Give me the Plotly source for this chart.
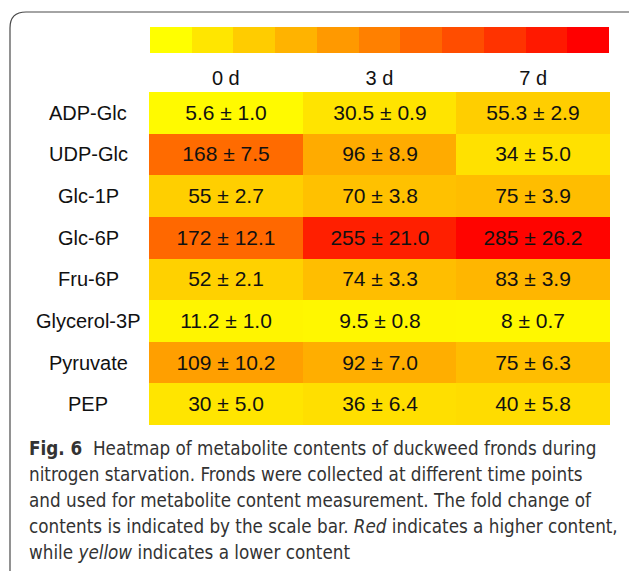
import plotly.graph_objects as go

W, H = 629, 571

# Metabolite contents (mean ± SD) over nitrogen starvation
days = ["0 d", "3 d", "7 d"]
metabolites = ["ADP-Glc", "UDP-Glc", "Glc-1P", "Glc-6P", "Fru-6P",
               "Glycerol-3P", "Pyruvate", "PEP"]
mean_vals = [
    [5.6, 30.5, 55.3],
    [168, 96, 34],
    [55, 70, 75],
    [172, 255, 285],
    [52, 74, 83],
    [11.2, 9.5, 8],
    [109, 92, 75],
    [30, 36, 40],
]
sd_vals = [
    [1.0, 0.9, 2.9],
    [7.5, 8.9, 5.0],
    [2.7, 3.8, 3.9],
    [12.1, 21.0, 26.2],
    [2.1, 3.3, 3.9],
    [1.0, 0.8, 0.7],
    [10.2, 7.0, 6.3],
    [5.0, 6.4, 5.8],
]
# Scale bar steps (low -> high)
scale_steps = list(range(11))

caption_lines = [
    "<b>Fig. 6</b>  Heatmap of metabolite contents of duckweed fronds during",
    "nitrogen starvation. Fronds were collected at different time points",
    "and used for metabolite content measurement. The fold change of",
    "contents is indicated by the scale bar. <i>Red</i> indicates a higher content,",
    "while <i>yellow</i> indicates a lower content",
]

yellow_red = [[0.0, "#FFFF00"], [1.0, "#FF0000"]]


def px_x(p):
    return p / W


def px_y(p):
    return 1 - p / H


cell_text = [[f"{m:g} ± {s:.1f}" for m, s in zip(mr, sr)]
             for mr, sr in zip(mean_vals, sd_vals)]

fig = go.Figure()

fig.add_trace(go.Heatmap(
    x=days, y=metabolites, z=mean_vals,
    text=cell_text, texttemplate="%{text}",
    textfont=dict(family="Liberation Sans, Arial, sans-serif", size=21, color="#111111"),
    colorscale=yellow_red, zmin=0, zmax=290, showscale=False,
    hoverinfo="skip",
))

fig.add_trace(go.Heatmap(
    z=[scale_steps], x=scale_steps, y=[0],
    colorscale=yellow_red, zmin=0, zmax=10, showscale=False,
    xaxis="x2", yaxis="y2", hoverinfo="skip",
))

axis_font = dict(family="Liberation Sans, Arial, sans-serif", size=20, color="#111111")

fig.update_layout(
    width=W, height=H,
    margin=dict(l=0, r=0, t=0, b=0),
    paper_bgcolor="white", plot_bgcolor="white",
    xaxis=dict(domain=[px_x(149), px_x(610)], side="top", showgrid=False,
               zeroline=False, ticks="", tickfont=axis_font,
               ticklabelstandoff=2, showline=False),
    yaxis=dict(domain=[px_y(425), px_y(92)], autorange="reversed",
               showgrid=False, zeroline=False, ticks="", showticklabels=False,
               showline=False),
    xaxis2=dict(domain=[px_x(150), px_x(609)], anchor="y2", visible=False),
    yaxis2=dict(domain=[px_y(53), px_y(27)], anchor="x2", visible=False),
    showlegend=False,
)

# Row labels, centred in the left column
for name in metabolites:
    fig.add_annotation(text=name, xref="paper", yref="y", x=px_x(88), y=name,
                       xanchor="center", yanchor="middle", showarrow=False,
                       font=axis_font)

# Rounded frame around the figure panel
r = 16
frame = (f"M {px_x(10)},{px_y(H + 5)} L {px_x(10)},{px_y(12 + r)} "
         f"Q {px_x(10)},{px_y(12)} {px_x(10 + r)},{px_y(12)} "
         f"L {px_x(W + 5)},{px_y(12)}")
fig.add_shape(type="path", path=frame, xref="paper", yref="paper",
              line=dict(color="#4a4a4a", width=1.2))

# Caption
cap_font = dict(family="DejaVu Sans Condensed, Lato, sans-serif",
                size=18.7, color="#333333")
for i, line in enumerate(caption_lines):
    fig.add_annotation(text=line, xref="paper", yref="paper",
                       x=px_x(27), y=px_y(448 + 26.2 * i),
                       xanchor="left", yanchor="middle", showarrow=False,
                       font=cap_font, align="left")

fig.write_html("out.html")
